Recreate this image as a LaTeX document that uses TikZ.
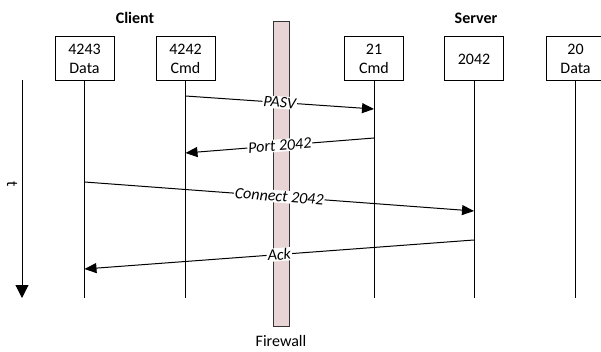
\documentclass[tikz,border=0pt]{standalone}
\usepackage{fontspec}
\setmainfont{Carlito}
\usetikzlibrary{arrows.meta}
\definecolor{wallpink}{RGB}{232,212,212}

\begin{document}
\begin{tikzpicture}[x=1pt,y=-1pt,
    port/.style={draw,line width=1pt,fill=white,minimum width=59pt,minimum height=44pt,align=center,inner sep=1pt,font=\fontsize{16}{19}\selectfont},
    life/.style={line width=1pt},
    msg/.style={line width=1pt,-{Triangle[length=12pt,width=10pt]}},
    lbl/.style={fill=white,inner sep=1pt,sloped,font=\fontsize{16}{19}\selectfont\itshape},
    side/.style={font=\fontsize{16}{19}\selectfont\bfseries}]
            \useasboundingbox (0,0) rectangle (601,352);
            % firewall
            \node[draw=black!80,line width=1pt,fill=wallpink,minimum width=16pt,minimum height=304pt,inner sep=0pt] (fw) at (281,174){};
            \node[font=\fontsize{16}{19}\selectfont] (fwl) at (281,341){Firewall};
            % sides
            \node[side] (client) at (135,18){Client};
            \node[side] (server) at (476,18){Server};
            % ports
            \node[port] (cd) at (84.5,59){4243\\Data};
            \node[port] (cc) at (185.5,59){4242\\Cmd};
            \node[port] (sc) at (374,59){21\\Cmd};
            \node[port] (sp) at (474,59){2042};
            \node[port] (sd) at (575.5,59){20\\Data};
            % lifelines
            \foreach \p in {cd,cc,sc,sp,sd}{
                \coordinate (\p-end) at (\p.south |- 0,298);
                \draw[life] (\p.south)--(\p-end);
            }
            % time
            \coordinate (t0) at (22,80);
            \coordinate (t1) at (22,298);
            \draw[line width=1pt,-{Triangle[length=13pt,width=13pt]}] (t0)--(t1);
            \node[rotate=-90,font=\fontsize{16}{19}\selectfont] (tl) at (12,184){t};
            % messages
            \draw[msg] (cc.south |- 0,96)--node[lbl]{PASV}(sc.south |- 0,109);
            \draw[msg] (sc.south |- 0,138)--node[lbl]{Port 2042}(cc.south |- 0,153);
            \draw[msg] (cd.south |- 0,182)--node[lbl]{Connect 2042}(sp.south |- 0,211);
            \draw[msg] (sp.south |- 0,240)--node[lbl]{Ack}(cd.south |- 0,269);
        \end{tikzpicture}
\end{document}
